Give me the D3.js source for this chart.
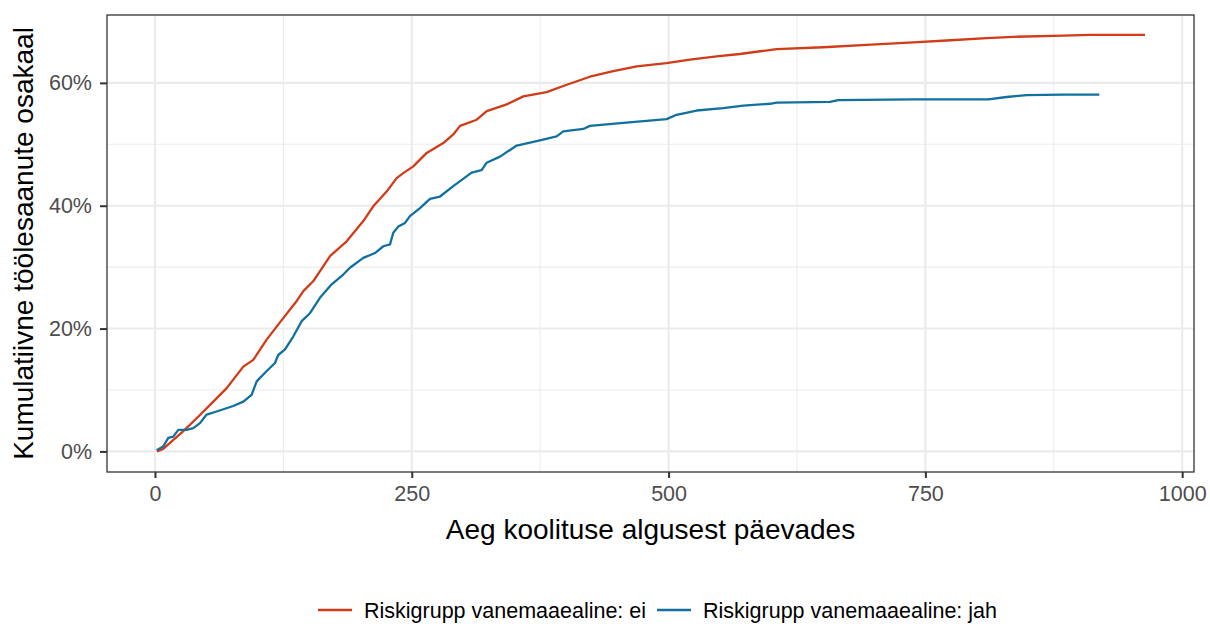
<!DOCTYPE html>
<html>
<head>
<meta charset="utf-8">
<script src="https://cdn.jsdelivr.net/npm/d3@7"></script>
<style>
  html, body { margin: 0; padding: 0; background: #fff; }
  svg { display: block; font-family: "Liberation Sans", Arial, sans-serif; }
</style>
</head>
<body>
<svg id="chart" width="1210" height="624"></svg>
<script>
// ---- data (days since training start, cumulative share) ----
const seriesNames = ["Riskigrupp vanemaaealine: ei", "Riskigrupp vanemaaealine: jah"];
const eiDays = [2, 8, 14.6, 27.6, 40.6, 56.8, 69.8, 86, 95.7, 108.7, 124.9, 138, 144.4, 154, 170.4, 186.6, 202.8, 212.5, 225.5, 235.3, 241.7, 251.5, 264.5, 280.7, 290.4, 297, 313.2, 323, 342.4, 358.6, 381.3, 400.8, 423.4, 446.2, 469, 498, 520.8, 546.8, 569.5, 605.2, 650.6, 692.9, 738.2, 770.7, 809.6, 835.6, 884.3, 910.2, 963.8];
const eiValues = [0.000, 0.004, 0.014, 0.033, 0.054, 0.081, 0.103, 0.138, 0.149, 0.182, 0.217, 0.245, 0.261, 0.277, 0.318, 0.342, 0.375, 0.399, 0.423, 0.445, 0.453, 0.464, 0.486, 0.502, 0.516, 0.530, 0.540, 0.554, 0.565, 0.578, 0.585, 0.597, 0.610, 0.619, 0.627, 0.632, 0.638, 0.643, 0.647, 0.655, 0.658, 0.662, 0.666, 0.669, 0.673, 0.675, 0.677, 0.678, 0.678];
const jahDays = [1.6, 8, 13, 17.8, 22.7, 30.9, 37.3, 43.8, 50.3, 60, 76.2, 86, 94.1, 99, 107.1, 116.8, 120, 126.6, 134.6, 142.8, 150.9, 160.6, 172, 183.3, 189.8, 202.8, 214.2, 222.3, 228.8, 232, 236.9, 243.4, 248.2, 258, 267.7, 277.5, 290.4, 297, 308.3, 318, 322.9, 335.9, 352.1, 371.6, 391, 397.5, 417, 423.4, 455.9, 498.1, 507.8, 527.3, 553.2, 572.7, 598.7, 605.2, 657.1, 665.2, 738.2, 811.2, 829.1, 848.5, 884.3, 919.3];
const jahValues = [0.002, 0.008, 0.022, 0.024, 0.035, 0.035, 0.038, 0.046, 0.060, 0.065, 0.074, 0.081, 0.092, 0.114, 0.128, 0.144, 0.157, 0.166, 0.187, 0.212, 0.225, 0.250, 0.272, 0.288, 0.299, 0.315, 0.323, 0.334, 0.337, 0.356, 0.366, 0.372, 0.383, 0.396, 0.411, 0.415, 0.432, 0.440, 0.454, 0.458, 0.470, 0.480, 0.498, 0.505, 0.513, 0.521, 0.525, 0.530, 0.535, 0.541, 0.548, 0.555, 0.559, 0.563, 0.566, 0.568, 0.569, 0.572, 0.573, 0.573, 0.577, 0.580, 0.581, 0.581];
const seriesColors = ["#d13b17", "#10709f"];
const xTicks = [0, 250, 500, 750, 1000];
const xMinor = [125, 375, 625, 875];
const yTicks = [0, 0.2, 0.4, 0.6];
const yMinor = [0.1, 0.3, 0.5];
const xTitle = "Aeg koolituse algusest päevades";
const yTitle = "Kumulatiivne töölesaanute osakaal";

// ---- layout ----
const svg = d3.select("#chart");
const panel = { left: 107, top: 15, right: 1194, bottom: 472 };
const tickFont = 21.5, titleFont = 28;

const x = d3.scaleLinear().domain([-46.7, 1011.5]).range([panel.left, panel.right]);
const y = d3.scaleLinear().domain([-0.0335, 0.7105]).range([panel.bottom, panel.top]);

// gridlines
const grid = svg.append("g");
grid.selectAll(".xminor").data(xMinor).enter().append("line")
  .attr("x1", d => x(d)).attr("x2", d => x(d))
  .attr("y1", panel.top).attr("y2", panel.bottom)
  .attr("stroke", "#ededed").attr("stroke-width", 1.1);
grid.selectAll(".yminor").data(yMinor).enter().append("line")
  .attr("x1", panel.left).attr("x2", panel.right)
  .attr("y1", d => y(d)).attr("y2", d => y(d))
  .attr("stroke", "#ededed").attr("stroke-width", 1.1);
grid.selectAll(".xmajor").data(xTicks).enter().append("line")
  .attr("x1", d => x(d)).attr("x2", d => x(d))
  .attr("y1", panel.top).attr("y2", panel.bottom)
  .attr("stroke", "#ebebeb").attr("stroke-width", 2.1);
grid.selectAll(".ymajor").data(yTicks).enter().append("line")
  .attr("x1", panel.left).attr("x2", panel.right)
  .attr("y1", d => y(d)).attr("y2", d => y(d))
  .attr("stroke", "#ebebeb").attr("stroke-width", 2.1);

// lines
const series = [
  { name: seriesNames[0], color: seriesColors[0], pts: eiDays.map((d, i) => [d, eiValues[i]]) },
  { name: seriesNames[1], color: seriesColors[1], pts: jahDays.map((d, i) => [d, jahValues[i]]) }
];
const line = d3.line().x(d => x(d[0])).y(d => y(d[1])).curve(d3.curveLinear);
svg.append("g").selectAll("path").data(series).enter().append("path")
  .attr("d", d => line(d.pts))
  .attr("fill", "none")
  .attr("stroke", d => d.color)
  .attr("stroke-width", 2.3)
  .attr("stroke-linejoin", "round");

// panel border
svg.append("rect")
  .attr("x", panel.left).attr("y", panel.top)
  .attr("width", panel.right - panel.left).attr("height", panel.bottom - panel.top)
  .attr("fill", "none").attr("stroke", "#333333").attr("stroke-width", 1.3);

// axes
const xAxis = d3.axisBottom(x).tickValues(xTicks).tickSize(6).tickPadding(8).tickFormat(d3.format("d"));
const gx = svg.append("g").attr("transform", `translate(0,${panel.bottom})`).call(xAxis);
gx.select(".domain").remove();
gx.selectAll(".tick line").attr("stroke", "#333333").attr("stroke-width", 2);
gx.selectAll(".tick text").attr("fill", "#4d4d4d").attr("font-size", tickFont)
  .attr("font-family", "Liberation Sans, Arial, sans-serif");

const yAxis = d3.axisLeft(y).tickValues(yTicks).tickSize(7).tickPadding(8).tickFormat(d3.format(".0%"));
const gy = svg.append("g").attr("transform", `translate(${panel.left},0)`).call(yAxis);
gy.select(".domain").remove();
gy.selectAll(".tick line").attr("stroke", "#333333").attr("stroke-width", 2);
gy.selectAll(".tick text").attr("fill", "#4d4d4d").attr("font-size", tickFont)
  .attr("font-family", "Liberation Sans, Arial, sans-serif");

// titles
svg.append("text")
  .attr("x", (panel.left + panel.right) / 2).attr("y", 539)
  .attr("text-anchor", "middle").attr("font-size", titleFont).attr("fill", "#000")
  .text(xTitle);
svg.append("text")
  .attr("transform", `translate(33,${(panel.top + panel.bottom) / 2}) rotate(-90)`)
  .attr("text-anchor", "middle").attr("font-size", titleFont).attr("fill", "#000")
  .text(yTitle);

// legend
const legend = svg.append("g");
const legendItems = [
  { x: 318, color: seriesColors[0], label: seriesNames[0] },
  { x: 657, color: seriesColors[1], label: seriesNames[1] }
];
legendItems.forEach(it => {
  legend.append("line")
    .attr("x1", it.x).attr("x2", it.x + 34)
    .attr("y1", 610).attr("y2", 610)
    .attr("stroke", it.color).attr("stroke-width", 2.3);
  legend.append("text")
    .attr("x", it.x + 46).attr("y", 618)
    .attr("font-size", tickFont).attr("fill", "#000")
    .text(it.label);
});
</script>
</body>
</html>
